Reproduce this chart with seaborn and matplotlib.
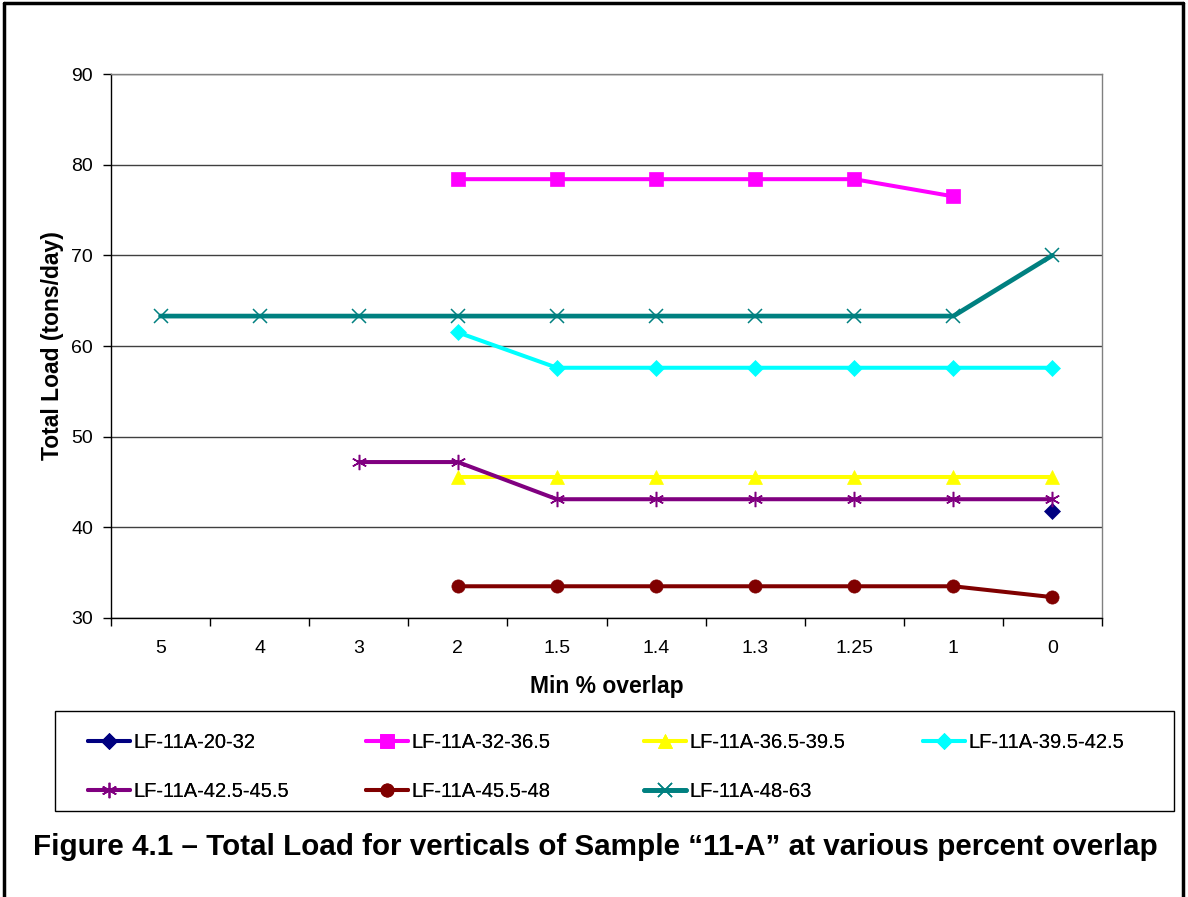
import numpy as np
import pandas as pd
import matplotlib
matplotlib.use("Agg")
import matplotlib.pyplot as plt
from matplotlib.lines import Line2D
from matplotlib.patches import Rectangle
import seaborn as sns

nan = np.nan

# Minimum percent overlap (categorical x axis)
categories = ["5", "4", "3", "2", "1.5", "1.4", "1.3", "1.25", "1", "0"]

# Total load (tons/day) for each vertical
lf_20_32 = [nan, nan, nan, nan, nan, nan, nan, nan, nan, 41.8]
lf_32_365 = [nan, nan, nan, 78.4, 78.4, 78.4, 78.4, 78.4, 76.5, nan]
lf_365_395 = [nan, nan, nan, 45.5, 45.5, 45.5, 45.5, 45.5, 45.5, 45.5]
lf_395_425 = [nan, nan, nan, 61.5, 57.6, 57.6, 57.6, 57.6, 57.6, 57.6]
lf_425_455 = [nan, nan, 47.2, 47.2, 43.1, 43.1, 43.1, 43.1, 43.1, 43.1]
lf_455_48 = [nan, nan, nan, 33.5, 33.5, 33.5, 33.5, 33.5, 33.5, 32.3]
lf_48_63 = [63.3, 63.3, 63.3, 63.3, 63.3, 63.3, 63.3, 63.3, 63.3, 70.0]

series_names = ["LF-11A-20-32", "LF-11A-32-36.5", "LF-11A-36.5-39.5",
                "LF-11A-39.5-42.5", "LF-11A-42.5-45.5", "LF-11A-45.5-48",
                "LF-11A-48-63"]
series_values = [lf_20_32, lf_32_365, lf_365_395, lf_395_425,
                 lf_425_455, lf_455_48, lf_48_63]

colors = ["#000080", "#FF00FF", "#FFFF00", "#00FFFF", "#800080", "#800000", "#008080"]
markers = ["D", "s", "^", "D", (6, 2, 0), "o", "x"]
msizes = [8, 9.5, 10, 8, 11, 9.5, 10]
mews = [0.5, 0.5, 0.5, 0.5, 1.1, 0.5, 1.1]
lws = [2.9, 2.9, 2.9, 2.9, 2.9, 2.9, 3.4]

rows = []
for name, vals in zip(series_names, series_values):
    for i, (cat, v) in enumerate(zip(categories, vals)):
        rows.append({"series": name, "pos": i, "overlap": cat, "load": v})
df = pd.DataFrame(rows).dropna()

sns.set_theme(style="white")
plt.rcParams["font.family"] = ["Liberation Sans", "DejaVu Sans"]
for key in ["text.color", "axes.labelcolor", "xtick.color", "ytick.color"]:
    plt.rcParams[key] = "black"

W, H = 1188, 897
fig = plt.figure(figsize=(W / 100, H / 100), dpi=100)
ax = fig.add_axes([111 / W, 1 - 618 / H, (1102 - 111) / W, (618 - 74) / H])

for name, c, m, ms, mew, lw in zip(series_names, colors, markers, msizes, mews, lws):
    sub = df[df["series"] == name]
    sns.lineplot(data=sub, x="pos", y="load", ax=ax, color=c, marker=m,
                 markersize=ms, markeredgewidth=mew, markeredgecolor=c,
                 linewidth=lw, sort=False, legend=False, zorder=3)

ax.set_xlim(-0.5, len(categories) - 0.5)
ax.set_ylim(30, 90)
ax.set_yticks(np.arange(30, 91, 10))
ax.set_yticklabels([str(v) for v in range(30, 91, 10)], fontsize=14)
ax.yaxis.grid(True, color="#404040", linewidth=1.0)
ax.xaxis.grid(False)

# category labels centred, tick marks on the category boundaries
ax.set_xticks(np.arange(len(categories)))
ax.set_xticklabels(categories, fontsize=14)
ax.set_xticks(np.arange(-0.5, len(categories)), minor=True)
ax.tick_params(axis="x", which="major", length=0, pad=16)
ax.tick_params(axis="x", which="minor", length=6, width=1, color="black", direction="out", bottom=True)
ax.tick_params(axis="y", length=6, width=1, color="black", direction="out", left=True, pad=7)

for side in ["left", "bottom"]:
    ax.spines[side].set_color("black")
    ax.spines[side].set_linewidth(1.0)
for side in ["right", "top"]:
    ax.spines[side].set_color("#808080")
    ax.spines[side].set_linewidth(1.0)

ax.set_xlabel("Min % overlap", fontsize=16.5, fontweight="bold", labelpad=13)
ax.set_ylabel("Total Load (tons/day)", fontsize=16.5, fontweight="bold", labelpad=5)

# legend: framed box below the plot, entries laid out row by row
fig.add_artist(Rectangle((55 / W, 1 - 811 / H), (1174 - 55) / W, 100 / H,
                         transform=fig.transFigure, fill=False,
                         edgecolor="black", linewidth=1.0))
handles = [Line2D([0], [0], color=c, marker=m, markersize=ms, markeredgewidth=mew,
                  markeredgecolor=c, linewidth=lw)
           for c, m, ms, mew, lw in zip(colors, markers, msizes, mews, lws)]
col_x = [88, 366, 644, 923]
for col, x0 in enumerate(col_x):
    idx = [i for i in range(len(series_names)) if i % 4 == col]
    lg = fig.legend([handles[i] for i in idx], [series_names[i] for i in idx],
                    loc="upper left", bbox_to_anchor=(x0 / W, 1 - 733 / H),
                    fontsize=14.5, frameon=False, handlelength=2.1,
                    handletextpad=0.15, labelspacing=1.5, borderpad=0.0,
                    borderaxespad=0.0)
    fig.add_artist(lg)

fig.text(595 / W, 1 - 847 / H,
         "Figure 4.1 \u2013 Total Load for verticals of Sample \u201c11-A\u201d at various percent overlap",
         ha="center", va="center", fontsize=21.3, fontweight="bold")

# outer frame of the figure
for xs, ys in [((4, 4), (897, 3)), ((4, 1183), (3, 3)), ((1183, 1183), (3, 897))]:
    fig.add_artist(Line2D([x / W for x in xs], [1 - y / H for y in ys],
                          color="black", linewidth=2.5, transform=fig.transFigure))

fig.savefig("out.png", dpi=100)
